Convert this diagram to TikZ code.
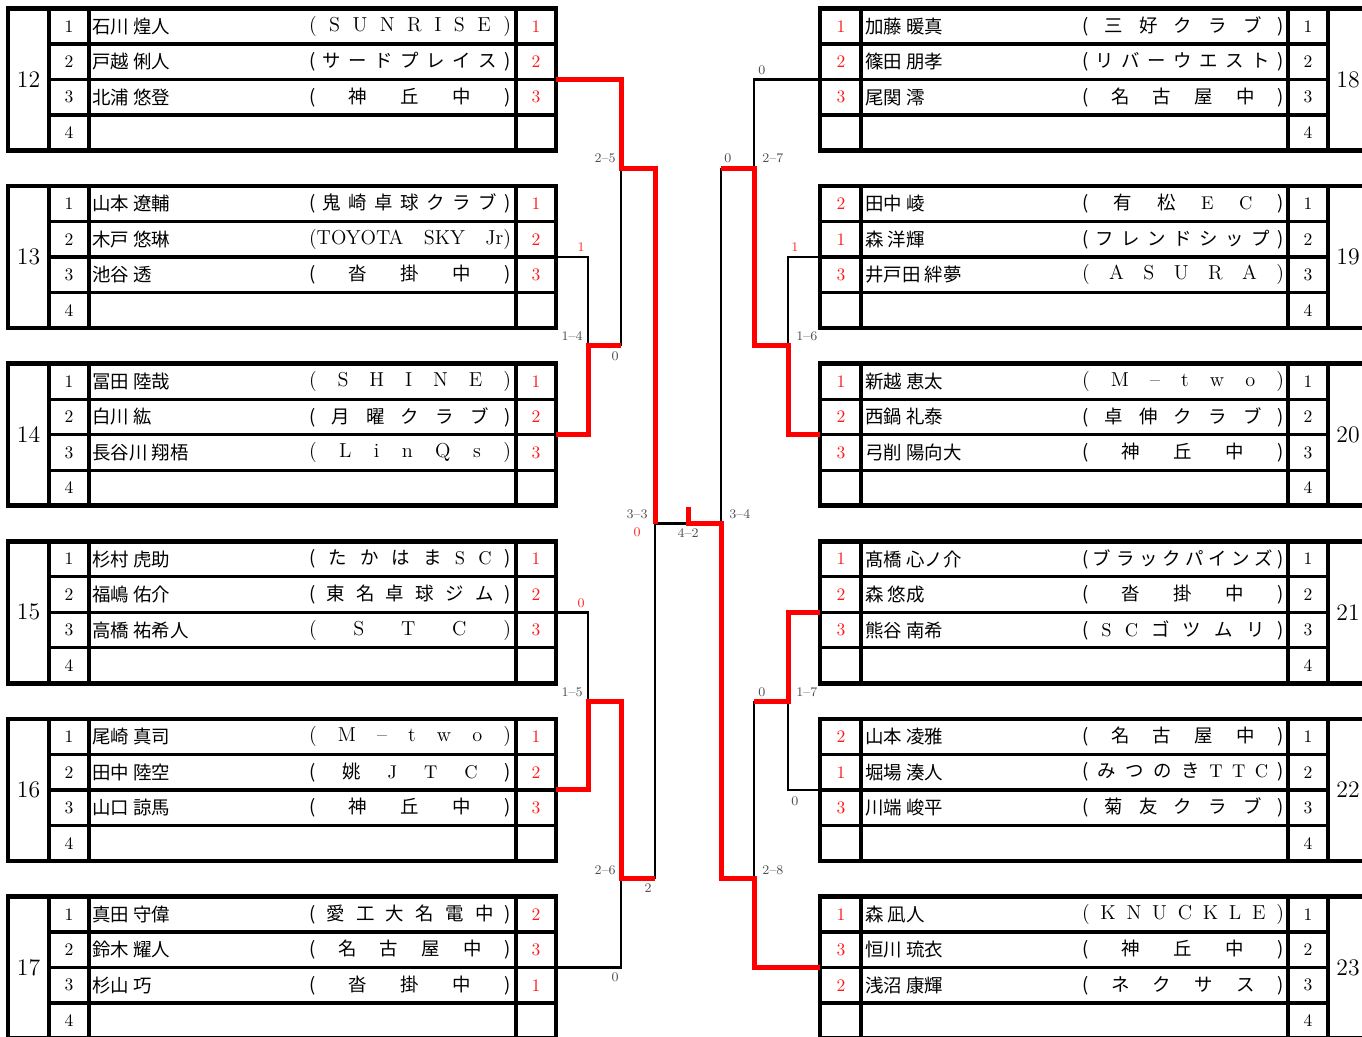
\documentclass[tikz,border=0pt]{standalone}
\usepackage{fontspec}
\newfontfamily\cjk{Noto Sans CJK JP}

\newlength\clubw
\setlength\clubw{4.04cm}
\newcommand\clubbox[1]{\makebox[\clubw][s]{#1}}
\newcommand\club[1]{\clubbox{(\foreach \ch in {#1}{\hfil\ch}\hfil)}}
\newcommand\jclub[1]{{\cjk\fontsize{10.5}{12}\selectfont\club{#1}}}

% left block: number, top edge
\newcommand\leftblock[2]{%
  \xdef\gnum{#1}\xdef\gtop{#2}%
  \draw[frame] (8,#2) rectangle (556,#2+142);
  \foreach \x in {49,89,516} \draw[colline] (\x,#2) -- (\x,#2+142);
  \foreach \i in {1,2,3} \draw[rowline] (49,#2+35.5*\i) -- (556,#2+35.5*\i);
  \node[groupnum] (n#1) at (28.5,#2+71) {#1};
  \foreach \i in {1,...,4} \node[seed] (s#1-\i) at (69,#2+35.5*\i-17.75) {\i};
  \coordinate (g#1) at (556,#2+71);
}
% right block: number, top edge
\newcommand\rightblock[2]{%
  \xdef\gnum{#1}\xdef\gtop{#2}%
  \draw[frame] (820,#2) rectangle (1370,#2+142);
  \foreach \x in {861,1288,1328} \draw[colline] (\x,#2) -- (\x,#2+142);
  \foreach \i in {1,2,3} \draw[rowline] (820,#2+35.5*\i) -- (1328,#2+35.5*\i);
  \node[groupnum] (n#1) at (1348,#2+71) {#1};
  \foreach \i in {1,...,4} \node[seed] (s#1-\i) at (1308,#2+35.5*\i-17.75) {\i};
  \coordinate (g#1) at (820,#2+71);
}
% row, name, club, result
\newcommand\leftrow[4]{%
  \node[player] (p\gnum-#1) at (92,\gtop+35.5*#1-17.75) {#2};
  \node[club]   (c\gnum-#1) at (410,\gtop+35.5*#1-17.75) {#3};
  \node[result] (r\gnum-#1) at (536,\gtop+35.5*#1-17.75) {#4};
}
% row, result, name, club
\newcommand\rightrow[4]{%
  \node[result] (r\gnum-#1) at (841,\gtop+35.5*#1-17.75) {#2};
  \node[player] (p\gnum-#1) at (865,\gtop+35.5*#1-17.75) {#3};
  \node[club]   (c\gnum-#1) at (1183,\gtop+35.5*#1-17.75) {#4};
}

\begin{document}
\begin{tikzpicture}[
  x=0.02cm,y=-0.02cm,
  frame/.style={line width=2.7pt},
  colline/.style={line width=2.3pt},
  rowline/.style={line width=1.9pt},
  groupnum/.style={inner sep=0pt,font=\fontsize{13.5}{14}\selectfont},
  seed/.style={inner sep=0pt,font=\fontsize{10}{10}\selectfont},
  result/.style={seed,text=red!90},
  player/.style={anchor=west,inner sep=0pt,font=\cjk\fontsize{10.5}{12}\selectfont},
  club/.style={inner sep=0pt,font=\fontsize{11.5}{12}\selectfont},
  lost/.style={line width=1.4pt},
  won/.style={red,line width=2.85pt},
  score/.style={inner sep=0pt,font=\fontsize{7.5}{8}\selectfont,text=black!70},
  redscore/.style={score,text=red!85},
  ]
  \useasboundingbox (0,0) rectangle (1362,1036);

  % left blocks
  \leftblock{12}{8.5}
  \leftrow{1}{石川 煌人}{\club{S,U,N,R,I,S,E}}{1}
  \leftrow{2}{戸越 俐人}{\jclub{サ,ー,ド,プ,レ,イ,ス}}{2}
  \leftrow{3}{北浦 悠登}{\jclub{神,丘,中}}{3}

  \leftblock{13}{186.1}
  \leftrow{1}{山本 遼輔}{\jclub{鬼,崎,卓,球,ク,ラ,ブ}}{1}
  \leftrow{2}{木戸 悠琳}{\clubbox{(TOYOTA\hfil SKY\hfil Jr)}}{2}
  \leftrow{3}{池谷 透}{\jclub{沓,掛,中}}{3}

  \leftblock{14}{363.7}
  \leftrow{1}{冨田 陸哉}{\club{S,H,I,N,E}}{1}
  \leftrow{2}{白川 紘}{\jclub{月,曜,ク,ラ,ブ}}{2}
  \leftrow{3}{長谷川 翔梧}{\club{L,i,n,Q,s}}{3}

  \leftblock{15}{541.3}
  \leftrow{1}{杉村 虎助}{\jclub{た,か,は,ま,\rmfamily S,\rmfamily C}}{1}
  \leftrow{2}{福嶋 佑介}{\jclub{東,名,卓,球,ジ,ム}}{2}
  \leftrow{3}{高橋 祐希人}{\club{S,T,C}}{3}

  \leftblock{16}{718.9}
  \leftrow{1}{尾崎 真司}{\club{M,--,t,w,o}}{1}
  \leftrow{2}{田中 陸空}{\jclub{姚,\rmfamily J,\rmfamily T,\rmfamily C}}{2}
  \leftrow{3}{山口 諒馬}{\jclub{神,丘,中}}{3}

  \leftblock{17}{896.5}
  \leftrow{1}{真田 守偉}{\jclub{愛,工,大,名,電,中}}{2}
  \leftrow{2}{鈴木 耀人}{\jclub{名,古,屋,中}}{3}
  \leftrow{3}{杉山 巧}{\jclub{沓,掛,中}}{1}

  % right blocks
  \rightblock{18}{8.5}
  \rightrow{1}{1}{加藤 暖真}{\jclub{三,好,ク,ラ,ブ}}
  \rightrow{2}{2}{篠田 朋孝}{\jclub{リ,バ,ー,ウ,エ,ス,ト}}
  \rightrow{3}{3}{尾関 澪}{\jclub{名,古,屋,中}}

  \rightblock{19}{186.1}
  \rightrow{1}{2}{田中 崚}{\jclub{有,松,\rmfamily E,\rmfamily C}}
  \rightrow{2}{1}{森 洋輝}{\jclub{フ,レ,ン,ド,シ,ッ,プ}}
  \rightrow{3}{3}{井戸田 絆夢}{\club{A,S,U,R,A}}

  \rightblock{20}{363.7}
  \rightrow{1}{1}{新越 恵太}{\club{M,--,t,w,o}}
  \rightrow{2}{2}{西鍋 礼泰}{\jclub{卓,伸,ク,ラ,ブ}}
  \rightrow{3}{3}{弓削 陽向大}{\jclub{神,丘,中}}

  \rightblock{21}{541.3}
  \rightrow{1}{1}{髙橋 心ノ介}{\jclub{ブ,ラ,ッ,ク,パ,イ,ン,ズ}}
  \rightrow{2}{2}{森 悠成}{\jclub{沓,掛,中}}
  \rightrow{3}{3}{熊谷 南希}{\jclub{\rmfamily S,\rmfamily C,ゴ,ツ,ム,リ}}

  \rightblock{22}{718.9}
  \rightrow{1}{2}{山本 凌雅}{\jclub{名,古,屋,中}}
  \rightrow{2}{1}{堀場 湊人}{\jclub{み,つ,の,き,\rmfamily T,\rmfamily T,\rmfamily C}}
  \rightrow{3}{3}{川端 峻平}{\jclub{菊,友,ク,ラ,ブ}}

  \rightblock{23}{896.5}
  \rightrow{1}{1}{森 凪人}{\club{K,N,U,C,K,L,E}}
  \rightrow{2}{3}{恒川 琉衣}{\jclub{神,丘,中}}
  \rightrow{3}{2}{浅沼 康輝}{\jclub{ネ,ク,サ,ス}}

  % bracket joints
  \coordinate (m14) at (588,345.9);
  \coordinate (m25) at (621,168.3);
  \coordinate (m15) at (588,701.1);
  \coordinate (m26) at (621,878.7);
  \coordinate (m33) at (655,523.5);
  \coordinate (fin) at (688,523.5);
  \coordinate (m34) at (721,523.5);
  \coordinate (m27) at (754,168.3);
  \coordinate (m28) at (754,878.7);
  \coordinate (m16) at (788,345.9);
  \coordinate (m17) at (788,701.1);

  % losing arms
  \draw[lost] (g13) -| (m14);
  \draw[lost] (m14 -| m25) -- (m25);
  \draw[lost] (g15) -| (m15);
  \draw[lost] (g17) -| (m26);
  \draw[lost] (m26 -| m33) -- (m33) -- (fin);
  \draw[lost] (g18) -| (m27);
  \draw[lost] (g19) -| (m16);
  \draw[lost] (m27 -| m34) -- (m34);
  \draw[lost] (g22) -| (m17);
  \draw[lost] (m17 -| m28) -- (m28);
  % winning paths
  \draw[won] (g12) -| (m25) -- (m25 -| m33) -- (m33);
  \draw[won] (g14) -| (m14) -- (m14 -| m25);
  \draw[won] (g16) -| (m15) -- (m15 -| m26) -- (m26) -- (m26 -| m33);
  \draw[won] (g20) -| (m16) -- (m16 -| m27) -- (m27) -- (m27 -| m34);
  \draw[won] (g21) -| (m17) -- (m17 -| m28);
  \draw[won] (g23) -| (m28) -- (m28 -| m34) -- (m34) -- (fin) -- ++(0,-16.5);

  % scores
  \path (m25) ++(-5,-5) node[score,anchor=south east] (l25) {2--5};
  \path (g13 -| m14) ++(-3,-5) node[redscore,anchor=south east] (a13) {1};
  \path (m14) ++(-5,-5) node[score,anchor=south east] (l14) {1--4};
  \path (m14 -| m25) ++(-2,5) node[score,anchor=north east] (a14) {0};
  \path (m33) ++(-7,-4) node[score,anchor=south east] (l33) {3--3};
  \path (m33) ++(-14,4) node[redscore,anchor=north east] (a33) {0};
  \path (fin) ++(0,5) node[score,anchor=north] (l42) {4--2};
  \path (g15 -| m15) ++(-3,-4) node[redscore,anchor=south east] (a15) {0};
  \path (m15) ++(-5,-4) node[score,anchor=south east] (l15) {1--5};
  \path (m26) ++(-5,-4) node[score,anchor=south east] (l26) {2--6};
  \path (m26 -| m33) ++(-3,5) node[score,anchor=north east] (a26) {2};
  \path (g17 -| m26) ++(-2,5) node[score,anchor=north east] (a17) {0};

  \path (g18 -| m27) ++(4,-4) node[score,anchor=south west] (a18) {0};
  \path (m27 -| m34) ++(3,-5) node[score,anchor=south west] (a27) {0};
  \path (m27) ++(8,-5) node[score,anchor=south west] (l27) {2--7};
  \path (g19 -| m16) ++(3,-5) node[redscore,anchor=south west] (a19) {1};
  \path (m16) ++(8,-5) node[score,anchor=south west] (l16) {1--6};
  \path (m34) ++(8,-4) node[score,anchor=south west] (l34) {3--4};
  \path (m17 -| m28) ++(4,-4) node[score,anchor=south west] (a21) {0};
  \path (m17) ++(8,-4) node[score,anchor=south west] (l17) {1--7};
  \path (g22 -| m17) ++(3,6) node[score,anchor=north west] (a22) {0};
  \path (m28) ++(8,-4) node[score,anchor=south west] (l28) {2--8};
\end{tikzpicture}
\end{document}
